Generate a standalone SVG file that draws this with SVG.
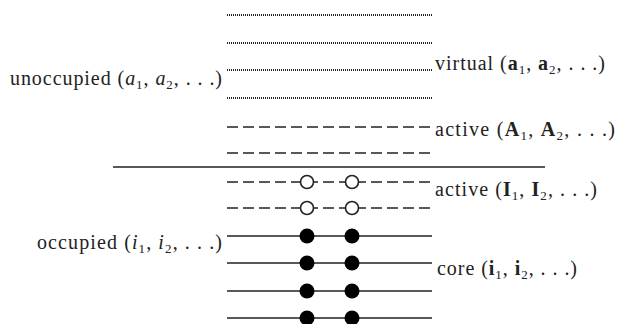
<svg xmlns="http://www.w3.org/2000/svg" width="618" height="324" viewBox="0 0 618 324">
<style>
text{font-size:20px;fill:#222}
.it{font-style:italic}
.b{font-weight:bold}
.sub{font-size:13px}
.dot{stroke:#222;stroke-width:1.8;stroke-dasharray:1 1;fill:none}
.dash{stroke:#222;stroke-width:1.6;stroke-dasharray:11 5;fill:none}
.solid{stroke:#222;stroke-width:1.5;fill:none}
.open{fill:#fff;stroke:#222;stroke-width:1.6}
.fill{fill:#000}
</style>
<rect width="618" height="324" fill="#fff"/>
<g id="connectors">
<line class="solid" x1="113" y1="167" x2="545" y2="167"/>
</g>
<g id="virtual">
<line class="dot" x1="227" y1="15" x2="432" y2="15"/>
<line class="dot" x1="227" y1="43" x2="432" y2="43"/>
<line class="dot" x1="227" y1="70" x2="432" y2="70"/>
<line class="dot" x1="227" y1="98" x2="432" y2="98"/>
<text font-family="'Liberation Serif', 'Times New Roman', 'DejaVu Serif', serif" x="435" y="70" textLength="170" lengthAdjust="spacing">virtual (<tspan class="b">a</tspan><tspan class="sub" dy="4">1</tspan><tspan dy="-4">, </tspan><tspan class="b">a</tspan><tspan class="sub" dy="4">2</tspan><tspan dy="-4">, . . .)</tspan></text>
</g>
<g id="activeA">
<line class="dash" x1="227" y1="127" x2="432" y2="127"/>
<line class="dash" x1="227" y1="153" x2="432" y2="153"/>
<text font-family="'Liberation Serif', 'Times New Roman', 'DejaVu Serif', serif" x="435" y="136" textLength="180" lengthAdjust="spacing">active (<tspan class="b">A</tspan><tspan class="sub" dy="4">1</tspan><tspan dy="-4">, </tspan><tspan class="b">A</tspan><tspan class="sub" dy="4">2</tspan><tspan dy="-4">, . . .)</tspan></text>
</g>
<g id="activeI">
<line class="dash" x1="227" y1="182" x2="432" y2="182"/>
<line class="dash" x1="227" y1="208" x2="432" y2="208"/>
<circle class="open" cx="307" cy="182" r="6.5"/>
<circle class="open" cx="352" cy="182" r="6.5"/>
<circle class="open" cx="307" cy="208" r="6.5"/>
<circle class="open" cx="352" cy="208" r="6.5"/>
<text font-family="'Liberation Serif', 'Times New Roman', 'DejaVu Serif', serif" x="435" y="196" textLength="162" lengthAdjust="spacing">active (<tspan class="b">I</tspan><tspan class="sub" dy="4">1</tspan><tspan dy="-4">, </tspan><tspan class="b">I</tspan><tspan class="sub" dy="4">2</tspan><tspan dy="-4">, . . .)</tspan></text>
</g>
<g id="core">
<line class="solid" x1="227" y1="236" x2="432" y2="236"/>
<line class="solid" x1="227" y1="263" x2="432" y2="263"/>
<line class="solid" x1="227" y1="291" x2="432" y2="291"/>
<line class="solid" x1="227" y1="318" x2="432" y2="318"/>
<circle class="fill" cx="307" cy="236" r="7.5"/>
<circle class="fill" cx="352" cy="236" r="7.5"/>
<circle class="fill" cx="307" cy="263" r="7.5"/>
<circle class="fill" cx="352" cy="263" r="7.5"/>
<circle class="fill" cx="307" cy="291" r="7.5"/>
<circle class="fill" cx="352" cy="291" r="7.5"/>
<circle class="fill" cx="307" cy="318" r="7.5"/>
<circle class="fill" cx="352" cy="318" r="7.5"/>
<text font-family="'Liberation Serif', 'Times New Roman', 'DejaVu Serif', serif" x="437" y="275" textLength="140" lengthAdjust="spacing">core (<tspan class="b">i</tspan><tspan class="sub" dy="4">1</tspan><tspan dy="-4">, </tspan><tspan class="b">i</tspan><tspan class="sub" dy="4">2</tspan><tspan dy="-4">, . . .)</tspan></text>
</g>
<g id="unoccupied">
<text font-family="'Liberation Serif', 'Times New Roman', 'DejaVu Serif', serif" x="10" y="85" textLength="212" lengthAdjust="spacing">unoccupied (<tspan class="it">a</tspan><tspan class="sub" dy="4">1</tspan><tspan dy="-4">, </tspan><tspan class="it">a</tspan><tspan class="sub" dy="4">2</tspan><tspan dy="-4">, . . .)</tspan></text>
</g>
<g id="occupied">
<text font-family="'Liberation Serif', 'Times New Roman', 'DejaVu Serif', serif" x="37" y="249" textLength="185" lengthAdjust="spacing">occupied (<tspan class="it">i</tspan><tspan class="sub" dy="4">1</tspan><tspan dy="-4">, </tspan><tspan class="it">i</tspan><tspan class="sub" dy="4">2</tspan><tspan dy="-4">, . . .)</tspan></text>
</g>
</svg>
